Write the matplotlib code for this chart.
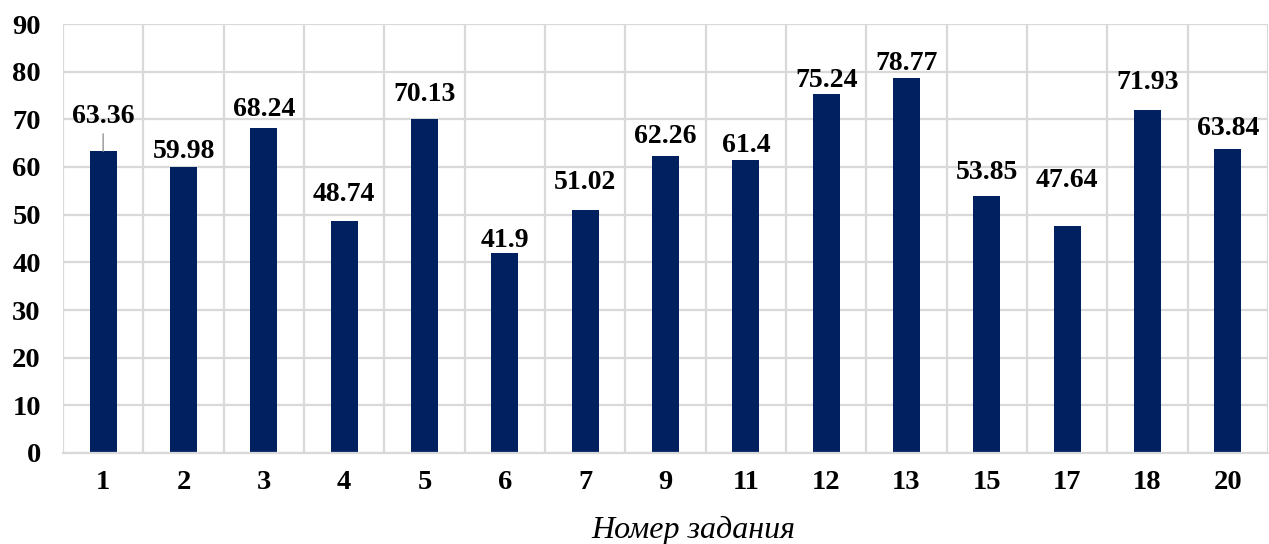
import matplotlib
matplotlib.use("Agg")
import matplotlib.pyplot as plt
from matplotlib.ticker import MultipleLocator, FixedLocator

tasks = ["1", "2", "3", "4", "5", "6", "7", "9", "11", "12", "13", "15", "17", "18", "20"]
scores = [63.36, 59.98, 68.24, 48.74, 70.13, 41.9, 51.02, 62.26, 61.4, 75.24, 78.77, 53.85, 47.64, 71.93, 63.84]
label_texts = ["63.36", "59.98", "68.24", "48.74", "70.13", "41.9", "51.02", "62.26", "61.4", "75.24", "78.77", "53.85", "47.64", "71.93", "63.84"]
# label offsets above bar top, in pixels (style)
label_offsets = [34, 16, 18, 26, 24, 13, 27, 20, 15, 14, 14, 24, 45, 28, 20]

plt.rcParams['font.family'] = ['Liberation Serif', 'DejaVu Serif']

fig = plt.figure(figsize=(12.69, 5.44), dpi=100)
ax = fig.add_axes([63/1269, 91/544, (1268-63)/1269, (453-24)/544])

x = list(range(len(tasks)))
bar_color = "#002060"
ax.bar(x, scores, width=0.34, color=bar_color, zorder=3)

ax.set_ylim(0, 90)
ax.set_xlim(-0.5, len(tasks) - 0.5)
ax.yaxis.set_major_locator(MultipleLocator(10))
ax.set_xticks(x)
ax.set_xticklabels(tasks)
ax.xaxis.set_minor_locator(FixedLocator([i - 0.5 for i in range(len(tasks) + 1)]))

grid_c = "#d9d9d9"
ax.grid(True, axis='y', which='major', color=grid_c, linewidth=1.6, zorder=0)
ax.grid(True, axis='x', which='minor', color=grid_c, linewidth=1.6, zorder=0)
ax.grid(False, axis='x', which='major')
for s in ["top", "right", "left"]:
    ax.spines[s].set_visible(False)
ax.spines["bottom"].set_color(grid_c)
ax.spines["bottom"].set_linewidth(1.6)
ax.spines["bottom"].set_zorder(4)

ax.tick_params(axis='both', which='both', length=0)
ax.tick_params(axis='y', pad=16, labelsize=20.5)
ax.tick_params(axis='x', pad=12, labelsize=20.5)
for t in ax.get_xticklabels() + ax.get_yticklabels():
    t.set_fontweight('bold')

for i, (v, lab, off) in enumerate(zip(scores, label_texts, label_offsets)):
    ax.annotate(lab, xy=(i, v), xytext=(0, off), textcoords='offset pixels',
                ha='center', va='center', fontsize=20, fontweight='bold', zorder=5)

# leader line for the first label
ax.annotate("", xy=(0, scores[0]), xytext=(0, 17), textcoords='offset pixels',
            arrowprops=dict(arrowstyle='-', color='#a6a6a6', lw=1.2, shrinkA=0, shrinkB=0))

ax.set_xlabel("Номер задания", fontsize=23, fontstyle='italic', labelpad=15)
ax.xaxis.label.set_x(0.523)

fig.savefig("out.png", dpi=100)
